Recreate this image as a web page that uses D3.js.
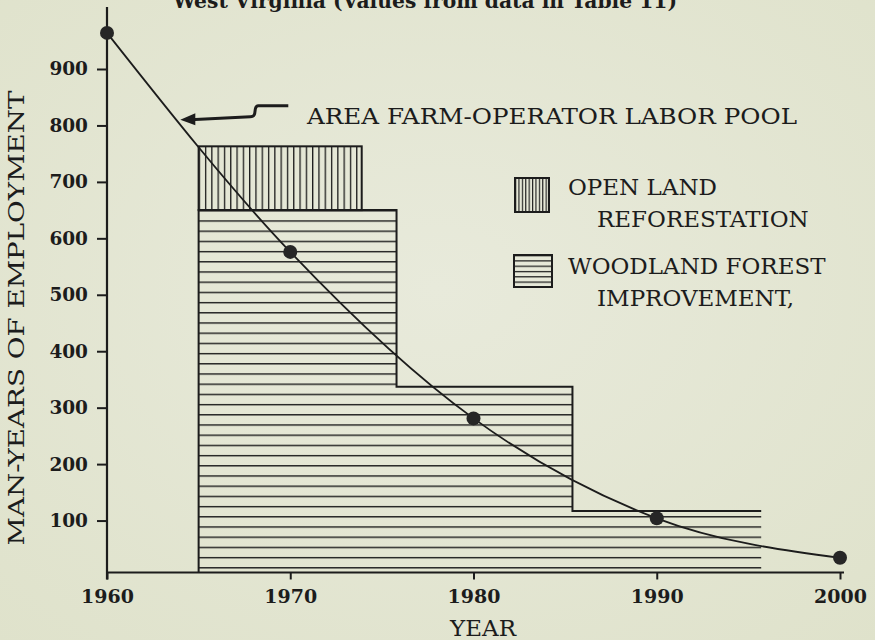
<!DOCTYPE html>
<html>
<head>
<meta charset="utf-8">
<script src="https://cdn.jsdelivr.net/npm/d3@7"></script>
<style>
  body { margin: 0; background: #e4e6d2; }
  text { font-family: "DejaVu Serif", serif; fill: #1c1c1c; }
</style>
</head>
<body>
<div id="chart"></div>
<script>
// values
const years = [1960, 1970, 1980, 1990, 2000];
const laborPool = [964, 576, 281, 104, 34];

const woodlandStart = [1965, 1975.8, 1985.4];
const woodlandEnd = [1975.8, 1985.4, 1995.7];
const woodlandValues = [650, 337, 117];

const reforestStart = [1965];
const reforestEnd = [1973.9];
const reforestValues = [113]; // stacked on the first woodland block

const yTicks = [100, 200, 300, 400, 500, 600, 700, 800, 900];
const xTicks = [1960, 1970, 1980, 1990, 2000];

const width = 875, height = 640;
const yFloor = 8, yTop = 1010;

const svg = d3.select("#chart").append("svg")
    .attr("width", width)
    .attr("height", height);

// paper background
const defs = svg.append("defs");
const grad = defs.append("radialGradient").attr("id", "paper")
    .attr("cx", "50%").attr("cy", "45%").attr("r", "75%");
grad.append("stop").attr("offset", "0%").attr("stop-color", "#e8eadb");
grad.append("stop").attr("offset", "100%").attr("stop-color", "#dfe2cb");
svg.append("rect").attr("width", width).attr("height", height).attr("fill", "url(#paper)");

const x = d3.scaleLinear().domain([1960, 2000]).range([107, 840]);
const y = d3.scaleLinear().domain([0, 900]).range([577, 69]);

// hatch patterns
function hatch(id, horizontal, step, ox, oy, sw) {
    const p = defs.append("pattern").attr("id", id)
        .attr("patternUnits", "userSpaceOnUse")
        .attr("x", ox).attr("y", oy)
        .attr("width", horizontal ? 20 : step)
        .attr("height", horizontal ? step : 20);
    if (horizontal) {
        p.append("line").attr("x1", 0).attr("x2", 20).attr("y1", 0.5).attr("y2", 0.5);
    } else {
        p.append("line").attr("y1", 0).attr("y2", 20).attr("x1", 0.5).attr("x2", 0.5);
    }
    p.selectAll("line").attr("stroke", "#1c1c1c").attr("stroke-width", sw);
}
hatch("hz", true, 10.2, 0, y(woodlandValues[0]), 1.8);
hatch("vt", false, 6.3, x(reforestStart[0]), 0, 1.6);
hatch("hzSmall", true, 5.3, 0, 255, 1.5);
hatch("vtSmall", false, 3.4, 515, 0, 1.3);

// woodland forest improvement (step blocks)
const woodland = woodlandValues.map((v, i) => ({ x0: woodlandStart[i], x1: woodlandEnd[i], v }));
const areaPath = d3.area()
    .curve(d3.curveStepAfter)
    .x(d => x(d.x))
    .y0(y(yFloor))
    .y1(d => y(d.v));
const stepPts = woodland.map(d => ({ x: d.x0, v: d.v }))
    .concat([{ x: woodland[woodland.length - 1].x1, v: woodland[woodland.length - 1].v }]);

svg.append("path")
    .attr("d", areaPath(stepPts))
    .attr("fill", "url(#hz)");

// outline: left edge, tops and inner steps (no closing right edge)
const outline = d3.line().curve(d3.curveStepAfter).x(d => x(d.x)).y(d => y(d.v));
svg.append("path")
    .attr("d", `M${x(woodland[0].x0)},${y(yFloor)}L` + outline(stepPts).slice(1))
    .attr("fill", "none")
    .attr("stroke", "#1c1c1c")
    .attr("stroke-width", 2);

// open land reforestation block, stacked on top
const reforest = reforestValues.map((v, i) => ({
    x0: reforestStart[i], x1: reforestEnd[i],
    base: woodlandValues[0], top: woodlandValues[0] + v
}));
svg.selectAll(".reforest")
    .data(reforest)
    .enter().append("rect")
    .attr("class", "reforest")
    .attr("x", d => x(d.x0))
    .attr("y", d => y(d.top))
    .attr("width", d => x(d.x1) - x(d.x0))
    .attr("height", d => y(d.base) - y(d.top))
    .attr("fill", "url(#vt)")
    .attr("stroke", "#1c1c1c")
    .attr("stroke-width", 2);

// axes
svg.append("line")
    .attr("x1", x(1960)).attr("x2", x(1960))
    .attr("y1", y(yTop)).attr("y2", y(yFloor) + 7)
    .attr("stroke", "#1c1c1c").attr("stroke-width", 2.2);
svg.append("line")
    .attr("x1", x(1960)).attr("x2", x(2000) + 4)
    .attr("y1", y(yFloor)).attr("y2", y(yFloor))
    .attr("stroke", "#1c1c1c").attr("stroke-width", 2.2);

const yAxis = svg.append("g")
    .attr("transform", `translate(${x(1960)},0)`)
    .call(d3.axisLeft(y).tickValues(yTicks).tickSize(10).tickPadding(9));
yAxis.select(".domain").remove();
yAxis.selectAll("line").attr("stroke", "#1c1c1c").attr("stroke-width", 2);
yAxis.selectAll("text")
    .attr("fill", "#1c1c1c")
    .style("font-family", "'DejaVu Serif', serif")
    .style("font-weight", "bold")
    .style("font-size", "18.5px");

const xAxis = svg.append("g")
    .attr("transform", `translate(0,${y(yFloor)})`)
    .call(d3.axisBottom(x).tickValues(xTicks).tickFormat(d3.format("d")).tickSize(7).tickPadding(10));
xAxis.select(".domain").remove();
xAxis.selectAll("line").attr("stroke", "#1c1c1c").attr("stroke-width", 2);
xAxis.selectAll("text")
    .attr("fill", "#1c1c1c")
    .style("font-family", "'DejaVu Serif', serif")
    .style("font-weight", "bold")
    .style("font-size", "19px");

// labor pool curve
const pool = years.map((yr, i) => ({ yr, v: laborPool[i] }));
svg.append("path")
    .datum(pool)
    .attr("d", d3.line().curve(d3.curveMonotoneX).x(d => x(d.yr)).y(d => y(d.v)))
    .attr("fill", "none")
    .attr("stroke", "#1c1c1c")
    .attr("stroke-width", 1.8);
svg.selectAll(".dot")
    .data(pool)
    .enter().append("circle")
    .attr("class", "dot")
    .attr("cx", d => x(d.yr))
    .attr("cy", d => y(d.v))
    .attr("r", 7)
    .attr("fill", "#262626");

// axis titles
svg.append("text")
    .attr("transform", `translate(24,318) rotate(-90)`)
    .attr("text-anchor", "middle")
    .attr("textLength", 455)
    .attr("lengthAdjust", "spacingAndGlyphs")
    .style("font-size", "22px")
    .text("MAN-YEARS OF EMPLOYMENT");
svg.append("text")
    .attr("x", 483).attr("y", 636)
    .attr("text-anchor", "middle")
    .style("font-size", "23px")
    .text("YEAR");

// title, cut off by the top edge as in the scan
svg.append("text")
    .attr("x", 173).attr("y", 8)
    .attr("textLength", 504)
    .attr("lengthAdjust", "spacingAndGlyphs")
    .style("font-size", "21px")
    .style("font-weight", "bold")
    .text("West Virginia (Values from data in Table 11)");

// annotation arrow to the curve
const tip = [x(1964), y(810)];
svg.append("path")
    .attr("d", `M${tip[0] + 108},${tip[1] - 14} L${tip[0] + 78},${tip[1] - 14}
                C${tip[0] + 72},${tip[1] - 14} ${tip[0] + 78},${tip[1] - 3} ${tip[0] + 70},${tip[1] - 3}
                L${tip[0] + 10},${tip[1]}`)
    .attr("fill", "none")
    .attr("stroke", "#1c1c1c")
    .attr("stroke-width", 3);
svg.append("path")
    .attr("d", `M${tip[0]},${tip[1]} l15,-6.5 l0,12 z`)
    .attr("fill", "#1c1c1c");
svg.append("text")
    .attr("x", 307).attr("y", tip[1] + 4)
    .attr("textLength", 490)
    .attr("lengthAdjust", "spacingAndGlyphs")
    .style("font-size", "22px")
    .text("AREA FARM-OPERATOR LABOR POOL");

// legend
const legend = [
    { pattern: "vtSmall", box: [515, 178, 34, 34], lines: ["OPEN LAND", "REFORESTATION"], y: 195 },
    { pattern: "hzSmall", box: [514, 255, 38, 32], lines: ["WOODLAND FOREST", "IMPROVEMENT,"], y: 274 }
];
const lg = svg.selectAll(".legend").data(legend).enter().append("g").attr("class", "legend");
lg.append("rect")
    .attr("x", d => d.box[0]).attr("y", d => d.box[1])
    .attr("width", d => d.box[2]).attr("height", d => d.box[3])
    .attr("fill", d => `url(#${d.pattern})`)
    .attr("stroke", "#1c1c1c").attr("stroke-width", 2);
lg.append("text")
    .attr("x", 568).attr("y", d => d.y)
    .style("font-size", "23px")
    .text(d => d.lines[0]);
lg.append("text")
    .attr("x", 597).attr("y", d => d.y + 32)
    .style("font-size", "23px")
    .text(d => d.lines[1]);
</script>
</body>
</html>
